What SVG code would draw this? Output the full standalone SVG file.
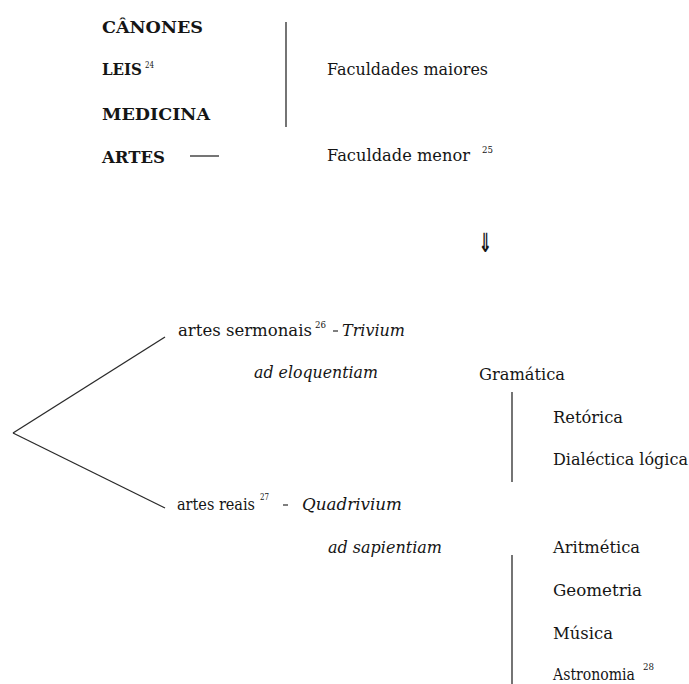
<svg xmlns="http://www.w3.org/2000/svg" width="689" height="684" viewBox="0 0 689 684">
<style>
text{font-family:"DejaVu Serif","Liberation Serif",serif;font-size:16px;fill:#151515}
.b{font-weight:bold}
.i{font-style:italic}
.sup{font-size:9.5px}
line{stroke:#2a2a2a;stroke-width:1.3;fill:none}
</style>
<rect width="689" height="684" fill="#fff"/>
<g id="connectors">
<line x1="286" y1="22" x2="286" y2="127"/>
<line x1="190" y1="156" x2="219" y2="156"/>
<line x1="13" y1="433" x2="165" y2="337"/>
<line x1="13" y1="433" x2="165" y2="508"/>
<line x1="512" y1="392" x2="512" y2="482"/>
<line x1="512" y1="555" x2="512" y2="684"/>
</g>
<g id="canones"><text class="b" x="102" y="33" textLength="101" lengthAdjust="spacingAndGlyphs">CÂNONES</text></g>
<g id="leis"><text class="b" x="102" y="75" textLength="40" lengthAdjust="spacingAndGlyphs">LEIS</text><text class="sup" x="145" y="68" textLength="9" lengthAdjust="spacingAndGlyphs">24</text></g>
<g id="medicina"><text class="b" x="102" y="120" textLength="108" lengthAdjust="spacingAndGlyphs">MEDICINA</text></g>
<g id="artes"><text class="b" x="102" y="163" textLength="63" lengthAdjust="spacingAndGlyphs">ARTES</text></g>
<g id="faculdades-maiores"><text x="327" y="75" textLength="161" lengthAdjust="spacingAndGlyphs">Faculdades maiores</text></g>
<g id="faculdade-menor"><text x="327" y="161" textLength="143" lengthAdjust="spacingAndGlyphs">Faculdade menor</text><text class="sup" x="482" y="153" textLength="11" lengthAdjust="spacingAndGlyphs">25</text></g>
<g id="arrow"><text x="0" y="0" transform="translate(478.5,252) scale(0.68,1.1)" style="font-family:'DejaVu Sans',sans-serif;font-size:24px;font-weight:bold">⇓</text></g>
<g id="artes-sermonais">
<text x="178" y="336" textLength="134" lengthAdjust="spacingAndGlyphs">artes sermonais</text>
<text class="sup" x="315" y="328" textLength="11" lengthAdjust="spacingAndGlyphs">26</text>
<line x1="333" y1="331" x2="338" y2="331" style="stroke-width:1.2"/>
<text class="i" x="342" y="336" textLength="63" lengthAdjust="spacingAndGlyphs">Trivium</text>
</g>
<g id="ad-eloquentiam"><text class="i" x="254" y="378" textLength="124" lengthAdjust="spacingAndGlyphs">ad eloquentiam</text></g>
<g id="gramatica"><text x="479" y="380" textLength="86" lengthAdjust="spacingAndGlyphs">Gramática</text></g>
<g id="retorica"><text x="553" y="423" textLength="70" lengthAdjust="spacingAndGlyphs">Retórica</text></g>
<g id="dialectica"><text x="553" y="465" textLength="135" lengthAdjust="spacingAndGlyphs">Dialéctica lógica</text></g>
<g id="artes-reais">
<text x="177" y="510" textLength="78" lengthAdjust="spacingAndGlyphs">artes reais</text>
<text class="sup" x="260" y="500" textLength="9" lengthAdjust="spacingAndGlyphs">27</text>
<line x1="283" y1="505" x2="288" y2="505" style="stroke-width:1.2"/>
<text class="i" x="302" y="510" textLength="100" lengthAdjust="spacingAndGlyphs">Quadrivium</text>
</g>
<g id="ad-sapientiam"><text class="i" x="328" y="553" textLength="114" lengthAdjust="spacingAndGlyphs">ad sapientiam</text></g>
<g id="aritmetica"><text x="553" y="553" textLength="87" lengthAdjust="spacingAndGlyphs">Aritmética</text></g>
<g id="geometria"><text x="553" y="596" textLength="89" lengthAdjust="spacingAndGlyphs">Geometria</text></g>
<g id="musica"><text x="553" y="639" textLength="60" lengthAdjust="spacingAndGlyphs">Música</text></g>
<g id="astronomia"><text x="553" y="680" textLength="82" lengthAdjust="spacingAndGlyphs">Astronomia</text><text class="sup" x="643" y="670" textLength="11" lengthAdjust="spacingAndGlyphs">28</text></g>
</svg>
